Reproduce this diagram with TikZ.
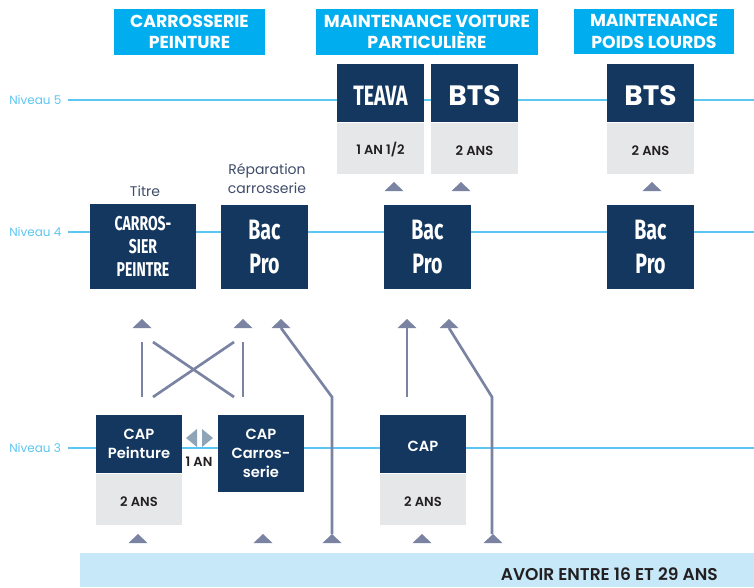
\documentclass[tikz,border=0pt]{standalone}
\usepackage{fontspec}
\setmainfont{Poppins}
\newfontfamily\semi{Poppins SemiBold}
\newfontfamily\condfont[FakeStretch=0.7]{Fira Sans}
\usetikzlibrary{positioning}

\definecolor{headblue}{HTML}{00AEEF}
\definecolor{navy}{HTML}{14375F}
\definecolor{lightgrey}{HTML}{E6E7E9}
\definecolor{levelblue}{HTML}{5BC6F2}
\definecolor{linkgrey}{HTML}{7B83A2}
\definecolor{band}{HTML}{C6E8F8}
\definecolor{pale}{HTML}{8FA4B6}
\definecolor{ink}{HTML}{231F20}
\definecolor{labelgrey}{HTML}{3E4B6A}

% lowers the text of a box a little
\newcommand\dropstrut{\rule{0pt}{\dimexpr\fontcharht\font`\A+4pt\relax}}

\begin{document}
\begin{tikzpicture}[
    x=0.75pt, y=-0.75pt,
    sz/.style 2 args={minimum width=#1*0.75pt, minimum height=#2*0.75pt},
    boxtext/.style={inner sep=0, align=center, execute at begin node=\dropstrut},
    head/.style={boxtext, fill=headblue, text=white,
        font=\bfseries\fontsize{13}{16}\selectfont},
    dark/.style={boxtext, fill=navy, text=white, sz={87}{58}},
    grey/.style={boxtext, fill=lightgrey, text=ink, sz={87}{51},
        font=\semi\fontsize{9.8}{11}\selectfont},
    capbox/.style={dark, font=\semi\fontsize{11}{14}\selectfont},
    big/.style={dark, font=\bfseries\fontsize{21}{22}\selectfont},
    bac/.style={dark, sz={87}{84}, font=\condfont\bfseries\fontsize{21}{25}\selectfont},
    level/.style={levelblue, line width=1.1pt},
    lvltext/.style={text=levelblue, anchor=west, inner sep=0,
        font=\fontsize{9}{10}\selectfont},
    note/.style={text=labelgrey, align=center, inner sep=0,
        font=\fontsize{10.5}{14}\selectfont},
    link/.style={linkgrey, line width=2pt},
    tri/.pic={\fill[linkgrey] (-9.5,0) -- (9.5,0) -- (0,-9) -- cycle;},
]
\useasboundingbox (0,0) rectangle (754,587);

% Levels
\draw[level] (68,100) -- (754,100);
\draw[level] (68,232) -- (754,232);
\draw[level] (68,448) -- (754,448);
\node[lvltext] (n5) at (9,100) {Niveau 5};
\node[lvltext] (n4) at (9,232) {Niveau 4};
\node[lvltext] (n3) at (9,448) {Niveau 3};

% Headers
\node[head, sz={151}{46}] (hcp) at (189.5,32) {CARROSSERIE\\PEINTURE};
\node[head, sz={222}{46}] (hvp) at (427,32) {MAINTENANCE VOITURE\\PARTICULIÈRE};
\node[head, sz={160}{45}] (hpl) at (654,31.5) {MAINTENANCE\\POIDS LOURDS};

% Niveau 5
\node[bac, sz={87}{58}] (teava) at (380.5,93) {TEAVA};
\node[grey, below=0pt of teava] (teavag) {1 AN 1/2};
\node[big] (btsvp) at (474.5,93) {BTS};
\node[grey, below=0pt of btsvp] (btsvpg) {2 ANS};
\node[big] (btspl) at (650.5,93) {BTS};
\node[grey, below=0pt of btspl] (btsplg) {2 ANS};

% Niveau 4
\node[dark, sz={106}{85},
      font=\condfont\bfseries\fontsize{15}{17}\selectfont] (cps) at (143,246.5) {CARROS-\\SIER\\PEINTRE};
\node[bac] (bacrc) at (264.5,247) {Bac\\Pro};
\node[bac] (bacvp) at (427.5,247) {Bac\\Pro};
\node[bac] (bacpl) at (650.5,247) {Bac\\Pro};
\node[note, anchor=base] (titre) at (145,196) {Titre};
\node[note, anchor=base] (repa) at (267,193) {Réparation\\carrosserie};

% Niveau 3
\node[capbox, sz={86}{58}] (cappt) at (139,444) {CAP\\Peinture};
\node[grey, sz={86}{51}, below=0pt of cappt] (capptg) {2 ANS};
\node[capbox, sz={86}{77}] (capcs) at (261,453.5) {CAP\\Carros-\\serie};
\node[capbox, sz={86}{58}] (capvp) at (423,444) {CAP};
\node[grey, sz={86}{51}, below=0pt of capvp] (capvpg) {2 ANS};
\fill[pale] (186,438) -- (197,429) -- (197,447) -- cycle;
\fill[pale] (213,438) -- (202,429) -- (202,447) -- cycle;
\node[inner sep=0, text=ink, font=\semi\fontsize{9.8}{11}\selectfont,
      anchor=base] (unan) at (199,466) {1 AN};

% Bottom band
\fill[band] (80,553) rectangle (754,587);
\node[anchor=base east, inner sep=0, text=ink,
      font=\semi\fontsize{12.8}{14}\selectfont] (avoir) at (718,580) {AVOIR ENTRE 16 ET 29 ANS};

% Pointers
\foreach \x in {394,461,652} \pic at (\x,191) {tri};
\foreach \x in {142,243,281,407,449} \pic at (\x,328) {tri};
\foreach \x in {138,263,332,422,493} \pic at (\x,543) {tri};

% Links
\coordinate (p1) at (142,342); \coordinate (p2) at (142,397);
\coordinate (q1) at (243,342); \coordinate (q2) at (243,397);
\coordinate (r1) at (153,342); \coordinate (r2) at (234,397);
\coordinate (s1) at (153,397); \coordinate (s2) at (234,342);
\draw[link] (p1) -- (p2);
\draw[link] (q1) -- (q2);
\draw[link] (r1) -- (r2);
\draw[link] (s1) -- (s2);
\coordinate (b1) at (332,534); \coordinate (k1) at (332,397); \coordinate (t1) at (281,328);
\draw[link] (b1) -- (k1) -- (t1);
\coordinate (v1) at (407,397); \coordinate (v2) at (407,328);
\draw[link] (v1) -- (v2);
\coordinate (b2) at (492,534); \coordinate (k2) at (492,397); \coordinate (t2) at (449,328);
\draw[link] (b2) -- (k2) -- (t2);

\end{tikzpicture}
\end{document}
